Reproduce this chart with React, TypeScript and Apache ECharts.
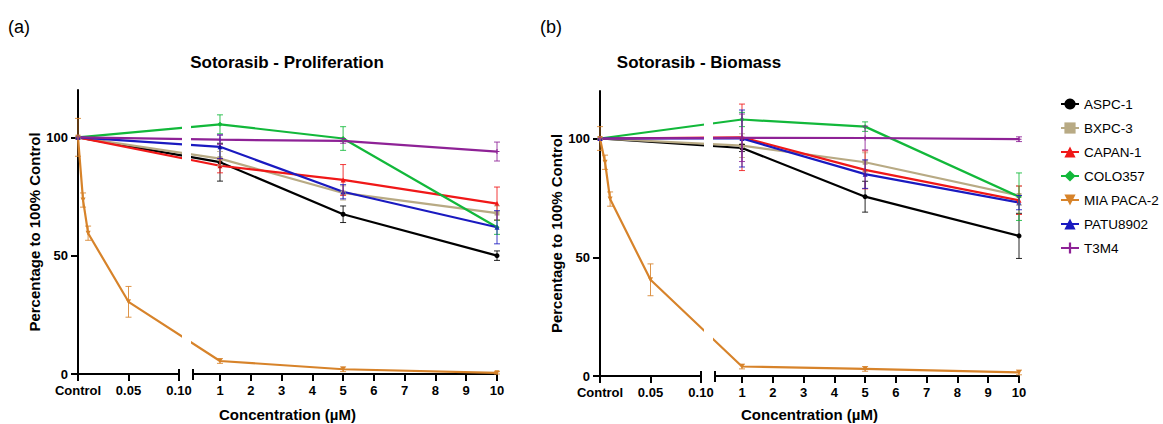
import React, { useEffect, useRef } from "react";
import * as echarts from "echarts";

// ---------- DATA ----------
const SERIES_NAMES = ["ASPC-1", "BXPC-3", "CAPAN-1", "COLO357", "MIA PACA-2", "PATU8902", "T3M4"];
const CONC_STD = [0, 1, 5, 10];
const CONC_MIA = [0, 0.005, 0.01, 0.05, 1, 5, 10];
const SEG1_TICKS = [0, 0.05, 0.1];
const SEG2_TICKS = [1, 2, 3, 4, 5, 6, 7, 8, 9, 10];
const Y_TICKS = [0, 50, 100];

// (a) Proliferation
const PRO_ASPC1 = [100, 89.5, 67.5, 50];
const PRO_ASPC1_ERR = [0, 8, 3.5, 2];
const PRO_BXPC3 = [100, 91, 76.5, 68];
const PRO_BXPC3_ERR = [0, 3, 3, 3];
const PRO_CAPAN1 = [100, 88, 82, 72];
const PRO_CAPAN1_ERR = [0, 3, 6.5, 7];
const PRO_COLO357 = [100, 105.5, 99.5, 62];
const PRO_COLO357_ERR = [0, 4, 5, 3];
const PRO_MIA = [100, 73.5, 59.5, 30.5, 5.5, 2, 0.5];
const PRO_MIA_ERR = [8, 3, 3, 6.5, 1, 1, 0.5];
const PRO_PATU = [100, 96, 77, 62];
const PRO_PATU_ERR = [0, 5, 3, 7];
const PRO_T3M4 = [100, 99, 98.5, 94];
const PRO_T3M4_ERR = [0, 2, 1, 4];

// (b) Biomass
const BIO_ASPC1 = [100, 96, 75.5, 59];
const BIO_ASPC1_ERR = [0, 1.5, 6.5, 9.5];
const BIO_BXPC3 = [100, 97, 90, 76];
const BIO_BXPC3_ERR = [0, 5, 4, 4];
const BIO_CAPAN1 = [100, 100.5, 86.8, 74];
const BIO_CAPAN1_ERR = [0, 14, 8, 6];
const BIO_COLO357 = [100, 108, 105, 75.5];
const BIO_COLO357_ERR = [0, 3, 2, 10];
const BIO_MIA = [100, 90, 74.5, 40.5, 4, 3, 1.5];
const BIO_MIA_ERR = [5, 3, 3, 6.7, 1, 1, 1];
const BIO_PATU = [100, 100, 85, 73];
const BIO_PATU_ERR = [0, 12, 6, 3];
const BIO_T3M4 = [100, 100.3, 100.2, 99.7];
const BIO_T3M4_ERR = [0, 10, 5, 1];

// ---------- STYLE ----------
const COLORS: Record<string, string> = {
  "ASPC-1": "#000000",
  "BXPC-3": "#B8AA84",
  "CAPAN-1": "#F01818",
  "COLO357": "#12B83A",
  "MIA PACA-2": "#D7832A",
  "PATU8902": "#1A1AC0",
  "T3M4": "#8E2296",
};
const SYMBOLS: Record<string, string> = {
  "ASPC-1": "circle",
  "BXPC-3": "rect",
  "CAPAN-1": "triangle",
  "COLO357": "diamond",
  "MIA PACA-2": "path://M0,0L10,0L5,9Z",
  "PATU8902": "triangle",
  "T3M4": "path://M4,0H6V4H10V6H6V10H4V6H0V4H4Z",
};
const FONT = "'Liberation Sans', Arial, sans-serif";

// broken-axis layout (pixels)
const W1 = 101;
const GAP = 14;
const W2 = 304;
const SEG1_MAX = 0.1;
const SEG2_MIN = 0.123;
const SEG2_MAX = 10;
const TOTAL_W = W1 + GAP + W2;

const toU = (c: number) =>
  c <= SEG1_MAX ? (c / SEG1_MAX) * W1 : W1 + GAP + ((c - SEG2_MIN) / (SEG2_MAX - SEG2_MIN)) * W2;

type Panel = {
  left: number;
  top: number;
  height: number;
  xNameGap: number;
  title: string;
  titleX: number;
  tag: string;
  tagX: number;
  data: Record<string, { conc: number[]; val: number[]; err: number[] }>;
};

const PANELS: Panel[] = [
  {
    left: 78,
    top: 90,
    height: 284,
    xNameGap: 33,
    title: "Sotorasib - Proliferation",
    titleX: 287,
    tag: "(a)",
    tagX: 8,
    data: {
      "ASPC-1": { conc: CONC_STD, val: PRO_ASPC1, err: PRO_ASPC1_ERR },
      "BXPC-3": { conc: CONC_STD, val: PRO_BXPC3, err: PRO_BXPC3_ERR },
      "CAPAN-1": { conc: CONC_STD, val: PRO_CAPAN1, err: PRO_CAPAN1_ERR },
      "COLO357": { conc: CONC_STD, val: PRO_COLO357, err: PRO_COLO357_ERR },
      "MIA PACA-2": { conc: CONC_MIA, val: PRO_MIA, err: PRO_MIA_ERR },
      "PATU8902": { conc: CONC_STD, val: PRO_PATU, err: PRO_PATU_ERR },
      "T3M4": { conc: CONC_STD, val: PRO_T3M4, err: PRO_T3M4_ERR },
    },
  },
  {
    left: 600,
    top: 91,
    height: 285,
    xNameGap: 31,
    title: "Sotorasib - Biomass",
    titleX: 699,
    tag: "(b)",
    tagX: 540,
    data: {
      "ASPC-1": { conc: CONC_STD, val: BIO_ASPC1, err: BIO_ASPC1_ERR },
      "BXPC-3": { conc: CONC_STD, val: BIO_BXPC3, err: BIO_BXPC3_ERR },
      "CAPAN-1": { conc: CONC_STD, val: BIO_CAPAN1, err: BIO_CAPAN1_ERR },
      "COLO357": { conc: CONC_STD, val: BIO_COLO357, err: BIO_COLO357_ERR },
      "MIA PACA-2": { conc: CONC_MIA, val: BIO_MIA, err: BIO_MIA_ERR },
      "PATU8902": { conc: CONC_STD, val: BIO_PATU, err: BIO_PATU_ERR },
      "T3M4": { conc: CONC_STD, val: BIO_T3M4, err: BIO_T3M4_ERR },
    },
  },
];

const axisLineStyle = { color: "#000", width: 2 };
const tickLabelStyle = { color: "#000", fontSize: 13, fontWeight: "bold" as const, fontFamily: FONT };

function buildOption() {
  const grids: any[] = [];
  const xAxes: any[] = [];
  const yAxes: any[] = [];
  const series: any[] = [];
  const titles: any[] = [];
  const graphics: any[] = [];

  PANELS.forEach((p, pi) => {
    const base = pi * 3;
    const axisY = p.top + p.height;
    const g = { top: p.top, height: p.height, containLabel: false, outerBoundsMode: "none" };
    // grid A: segment 1, grid B: segment 2, grid C: overlay for series
    grids.push({ ...g, left: p.left, width: W1 });
    grids.push({ ...g, left: p.left + W1 + GAP, width: W2 });
    grids.push({ ...g, left: p.left, width: TOTAL_W });

    xAxes.push({
      type: "value",
      gridIndex: base,
      min: 0,
      max: SEG1_MAX,
      axisLine: { show: true, lineStyle: axisLineStyle, onZero: false },
      axisTick: { show: true, length: 7, lineStyle: { color: "#000", width: 2 }, customValues: SEG1_TICKS },
      axisLabel: {
        ...tickLabelStyle,
        margin: 10,
        customValues: SEG1_TICKS,
        formatter: (v: number) => (v === 0 ? "Control" : v.toFixed(2)),
      },
      splitLine: { show: false },
    });
    xAxes.push({
      type: "value",
      gridIndex: base + 1,
      min: SEG2_MIN,
      max: SEG2_MAX,
      axisLine: { show: true, lineStyle: axisLineStyle, onZero: false },
      axisTick: { show: true, length: 7, lineStyle: { color: "#000", width: 2 }, customValues: SEG2_TICKS },
      axisLabel: { ...tickLabelStyle, margin: 10, customValues: SEG2_TICKS, formatter: (v: number) => String(v) },
      splitLine: { show: false },
    });
    xAxes.push({
      type: "value",
      gridIndex: base + 2,
      min: 0,
      max: TOTAL_W,
      axisLine: { show: false },
      axisTick: { show: false },
      axisLabel: { show: false },
      splitLine: { show: false },
      name: "Concentration (µM)",
      nameLocation: "middle",
      nameGap: p.xNameGap,
      nameTextStyle: { color: "#000", fontSize: 15, fontWeight: "bold", fontFamily: FONT, lineHeight: 15 },
    });

    yAxes.push({
      type: "value",
      gridIndex: base,
      min: 0,
      max: 120,
      axisLine: { show: true, lineStyle: axisLineStyle },
      axisTick: { show: true, length: 7, lineStyle: { color: "#000", width: 2 }, customValues: Y_TICKS },
      axisLabel: { ...tickLabelStyle, margin: 10, customValues: Y_TICKS },
      splitLine: { show: false },
      name: "Percentage to 100% Control",
      nameLocation: "middle",
      nameGap: 34,
      nameTextStyle: { color: "#000", fontSize: 15, fontWeight: "bold", fontFamily: FONT },
    });
    yAxes.push({ type: "value", gridIndex: base + 1, min: 0, max: 120, show: false });
    yAxes.push({ type: "value", gridIndex: base + 2, min: 0, max: 120, show: false });

    SERIES_NAMES.forEach((name) => {
      const d = p.data[name];
      const color = COLORS[name];
      series.push({
        name,
        type: "line",
        xAxisIndex: base + 2,
        yAxisIndex: base + 2,
        data: d.conc.map((c, i) => [toU(c), d.val[i]]),
        symbol: SYMBOLS[name],
        symbolSize: 5,
        showSymbol: true,
        itemStyle: { color },
        lineStyle: { color, width: 2.2 },
        z: 3,
      });
      series.push({
        name: name + " SD",
        type: "custom",
        xAxisIndex: base + 2,
        yAxisIndex: base + 2,
        data: d.conc
          .map((c, i) => [toU(c), d.val[i] - d.err[i], d.val[i] + d.err[i]])
          .filter((_, i) => d.err[i] > 0),
        encode: { x: 0, y: [1, 2] },
        z: 4,
        renderItem: (_params: any, api: any) => {
          const x = api.value(0);
          const lo = api.coord([x, api.value(1)]);
          const hi = api.coord([x, api.value(2)]);
          const cw = 3;
          const style = { stroke: color, lineWidth: 1, opacity: 0.85 };
          return {
            type: "group",
            children: [
              { type: "line", shape: { x1: lo[0], y1: lo[1], x2: hi[0], y2: hi[1] }, style },
              { type: "line", shape: { x1: lo[0] - cw, y1: lo[1], x2: lo[0] + cw, y2: lo[1] }, style },
              { type: "line", shape: { x1: hi[0] - cw, y1: hi[1], x2: hi[0] + cw, y2: hi[1] }, style },
            ],
          };
        },
      });
    });

    titles.push({
      text: p.title,
      left: p.titleX,
      top: 54,
      textAlign: "center",
      padding: 0,
      textStyle: { color: "#000", fontSize: 17, fontWeight: "bold", fontFamily: FONT },
    });

    graphics.push({
      type: "text",
      x: p.tagX,
      y: 27,
      z: 100,
      style: { text: p.tag, fontSize: 18, fontFamily: FONT, fill: "#000", verticalAlign: "middle" },
    });
    // white gap interrupting the curves across the axis break
    graphics.push({
      type: "rect",
      z: 100,
      shape: { x: p.left + W1 + 3, y: p.top - 5, width: GAP - 5, height: p.height - 6 },
      style: { fill: "#fff" },
    });
    // end caps of the broken axis
    [p.left + W1, p.left + W1 + GAP].forEach((cx) => {
      graphics.push({
        type: "line",
        z: 100,
        shape: { x1: cx, y1: axisY - 5, x2: cx, y2: axisY + 6 },
        style: { stroke: "#000", lineWidth: 2 },
      });
    });
  });

  return {
    animation: false,
    backgroundColor: "#fff",
    title: titles,
    grid: grids,
    xAxis: xAxes,
    yAxis: yAxes,
    series,
    legend: {
      data: SERIES_NAMES,
      orient: "vertical",
      left: 1060,
      top: 97,
      padding: 0,
      itemWidth: 18,
      itemHeight: 14,
      itemGap: 10,
      textStyle: { color: "#000", fontSize: 13.5, fontFamily: FONT },
      selectedMode: false,
    },
    graphic: { elements: graphics },
  };
}

export default function App() {
  const ref = useRef<HTMLDivElement>(null);
  useEffect(() => {
    document.body.style.margin = "0";
    if (!ref.current) return;
    const chart = echarts.init(ref.current, undefined, { renderer: "svg" });
    chart.setOption(buildOption() as any);
    return () => chart.dispose();
  }, []);
  return <div ref={ref} style={{ width: 1163, height: 424 }} />;
}
